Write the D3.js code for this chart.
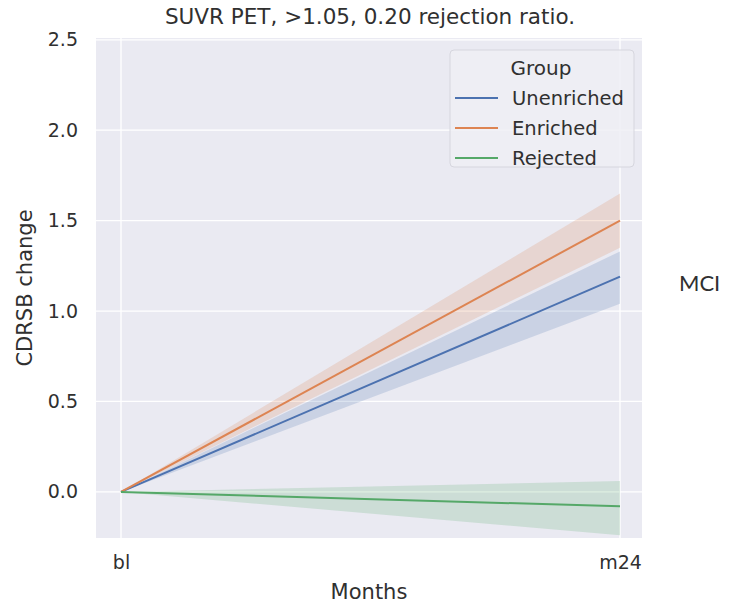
<!DOCTYPE html>
<html>
<meta charset="utf-8">
<title>CDRSB change</title>
<style>
    body { margin: 0; background: #fff; }
    text { font-family: "DejaVu Sans", sans-serif; fill: #303030; }
    .grid line { stroke: #fff; stroke-width: 1.3px; }
    .line { fill: none; stroke-width: 2px; }
</style>
<script src="https://cdn.jsdelivr.net/npm/d3@7"></script>
<body>
<script>
    // data
    const months = ["bl", "m24"]
    const groups = ["Unenriched", "Enriched", "Rejected"]
    const colors = ["#4c72b0", "#dd8452", "#55a868"]
    const meanVals = [[0, 1.19], [0, 1.50], [0, -0.08]]
    const lowVals = [[0, 1.04], [0, 1.35], [0, -0.24]]
    const highVals = [[0, 1.33], [0, 1.65], [0, 0.06]]
    const yTicks = [0.0, 0.5, 1.0, 1.5, 2.0, 2.5]

    const W = 736, H = 606
    const pLeft = 96, pRight = 642, pTop = 38, pBottom = 538

    const svg = d3.select("body").append("svg")
        .attr("width", W).attr("height", H)

    const x = d3.scalePoint().domain(months).range([121, 620])
    const y = d3.scaleLinear().domain([-0.255, 2.51]).range([pBottom, pTop])

    svg.append("rect")
        .attr("x", pLeft).attr("y", pTop)
        .attr("width", pRight - pLeft).attr("height", pBottom - pTop)
        .attr("fill", "#eaeaf2")

    // grid
    let grid = svg.append("g").attr("class", "grid")
    grid.selectAll(".gy").data(yTicks.filter(d => y(d) > pTop + 1))
        .enter().append("line")
        .attr("x1", pLeft).attr("x2", pRight)
        .attr("y1", d => y(d)).attr("y2", d => y(d))
    grid.selectAll(".gx").data(months)
        .enter().append("line")
        .attr("x1", d => x(d)).attr("x2", d => x(d))
        .attr("y1", pTop).attr("y2", pBottom)

    // bands + lines
    groups.forEach((g, i) => {
        let pts = months.map((m, j) => ({ m: m, v: meanVals[i][j], lo: lowVals[i][j], hi: highVals[i][j] }))
        let area = d3.area().x(d => x(d.m)).y0(d => y(d.lo)).y1(d => y(d.hi))
        svg.append("path").datum(pts)
            .attr("d", area)
            .attr("fill", colors[i]).attr("fill-opacity", 0.2)
    })
    groups.forEach((g, i) => {
        let pts = months.map((m, j) => ({ m: m, v: meanVals[i][j] }))
        let line = d3.line().x(d => x(d.m)).y(d => y(d.v))
        svg.append("path").datum(pts)
            .attr("class", "line")
            .attr("d", line)
            .attr("stroke", colors[i])
    })

    // axes (no spines, no ticks)
    svg.append("g").attr("transform", `translate(${pLeft},0)`)
        .call(d3.axisLeft(y).tickValues(yTicks).tickFormat(d3.format(".1f")).tickSize(0).tickPadding(18))
    svg.append("g").attr("transform", `translate(0,${pBottom})`)
        .call(d3.axisBottom(x).tickSize(0).tickPadding(18))
    svg.selectAll(".domain").remove()
    svg.selectAll(".tick text").attr("font-size", 19).attr("fill", "#303030")
        .style("font-family", "DejaVu Sans, sans-serif")

    svg.append("text").attr("x", 370).attr("y", 24)
        .attr("text-anchor", "middle").attr("font-size", 21.5)
        .text("SUVR PET, >1.05, 0.20 rejection ratio.")
    svg.append("text").attr("x", 369).attr("y", 599)
        .attr("text-anchor", "middle").attr("font-size", 21)
        .text("Months")
    svg.append("text").attr("transform", "translate(32,288) rotate(-90)")
        .attr("text-anchor", "middle").attr("font-size", 21)
        .text("CDRSB change")
    svg.append("text").attr("x", 679).attr("y", 291)
        .attr("font-size", 22).style("font-family", "Lato, sans-serif")
        .attr("fill", "#111")
        .text("MCI")

    // legend
    let lg = svg.append("g").attr("transform", "translate(450,50)")
    lg.append("rect").attr("width", 184).attr("height", 117).attr("rx", 4)
        .attr("fill", "#eeeef4").attr("fill-opacity", 0.85)
        .attr("stroke", "#d6d6de")
    lg.append("text").attr("x", 91).attr("y", 25)
        .attr("text-anchor", "middle").attr("font-size", 20).text("Group")
    groups.forEach((g, i) => {
        let yy = 48 + i * 30
        lg.append("line").attr("x1", 5).attr("x2", 48).attr("y1", yy).attr("y2", yy)
            .attr("stroke", colors[i]).attr("stroke-width", 2)
        lg.append("text").attr("x", 62).attr("y", yy + 7)
            .attr("font-size", 19.5).text(g)
    })
</script>
</body>
</html>
